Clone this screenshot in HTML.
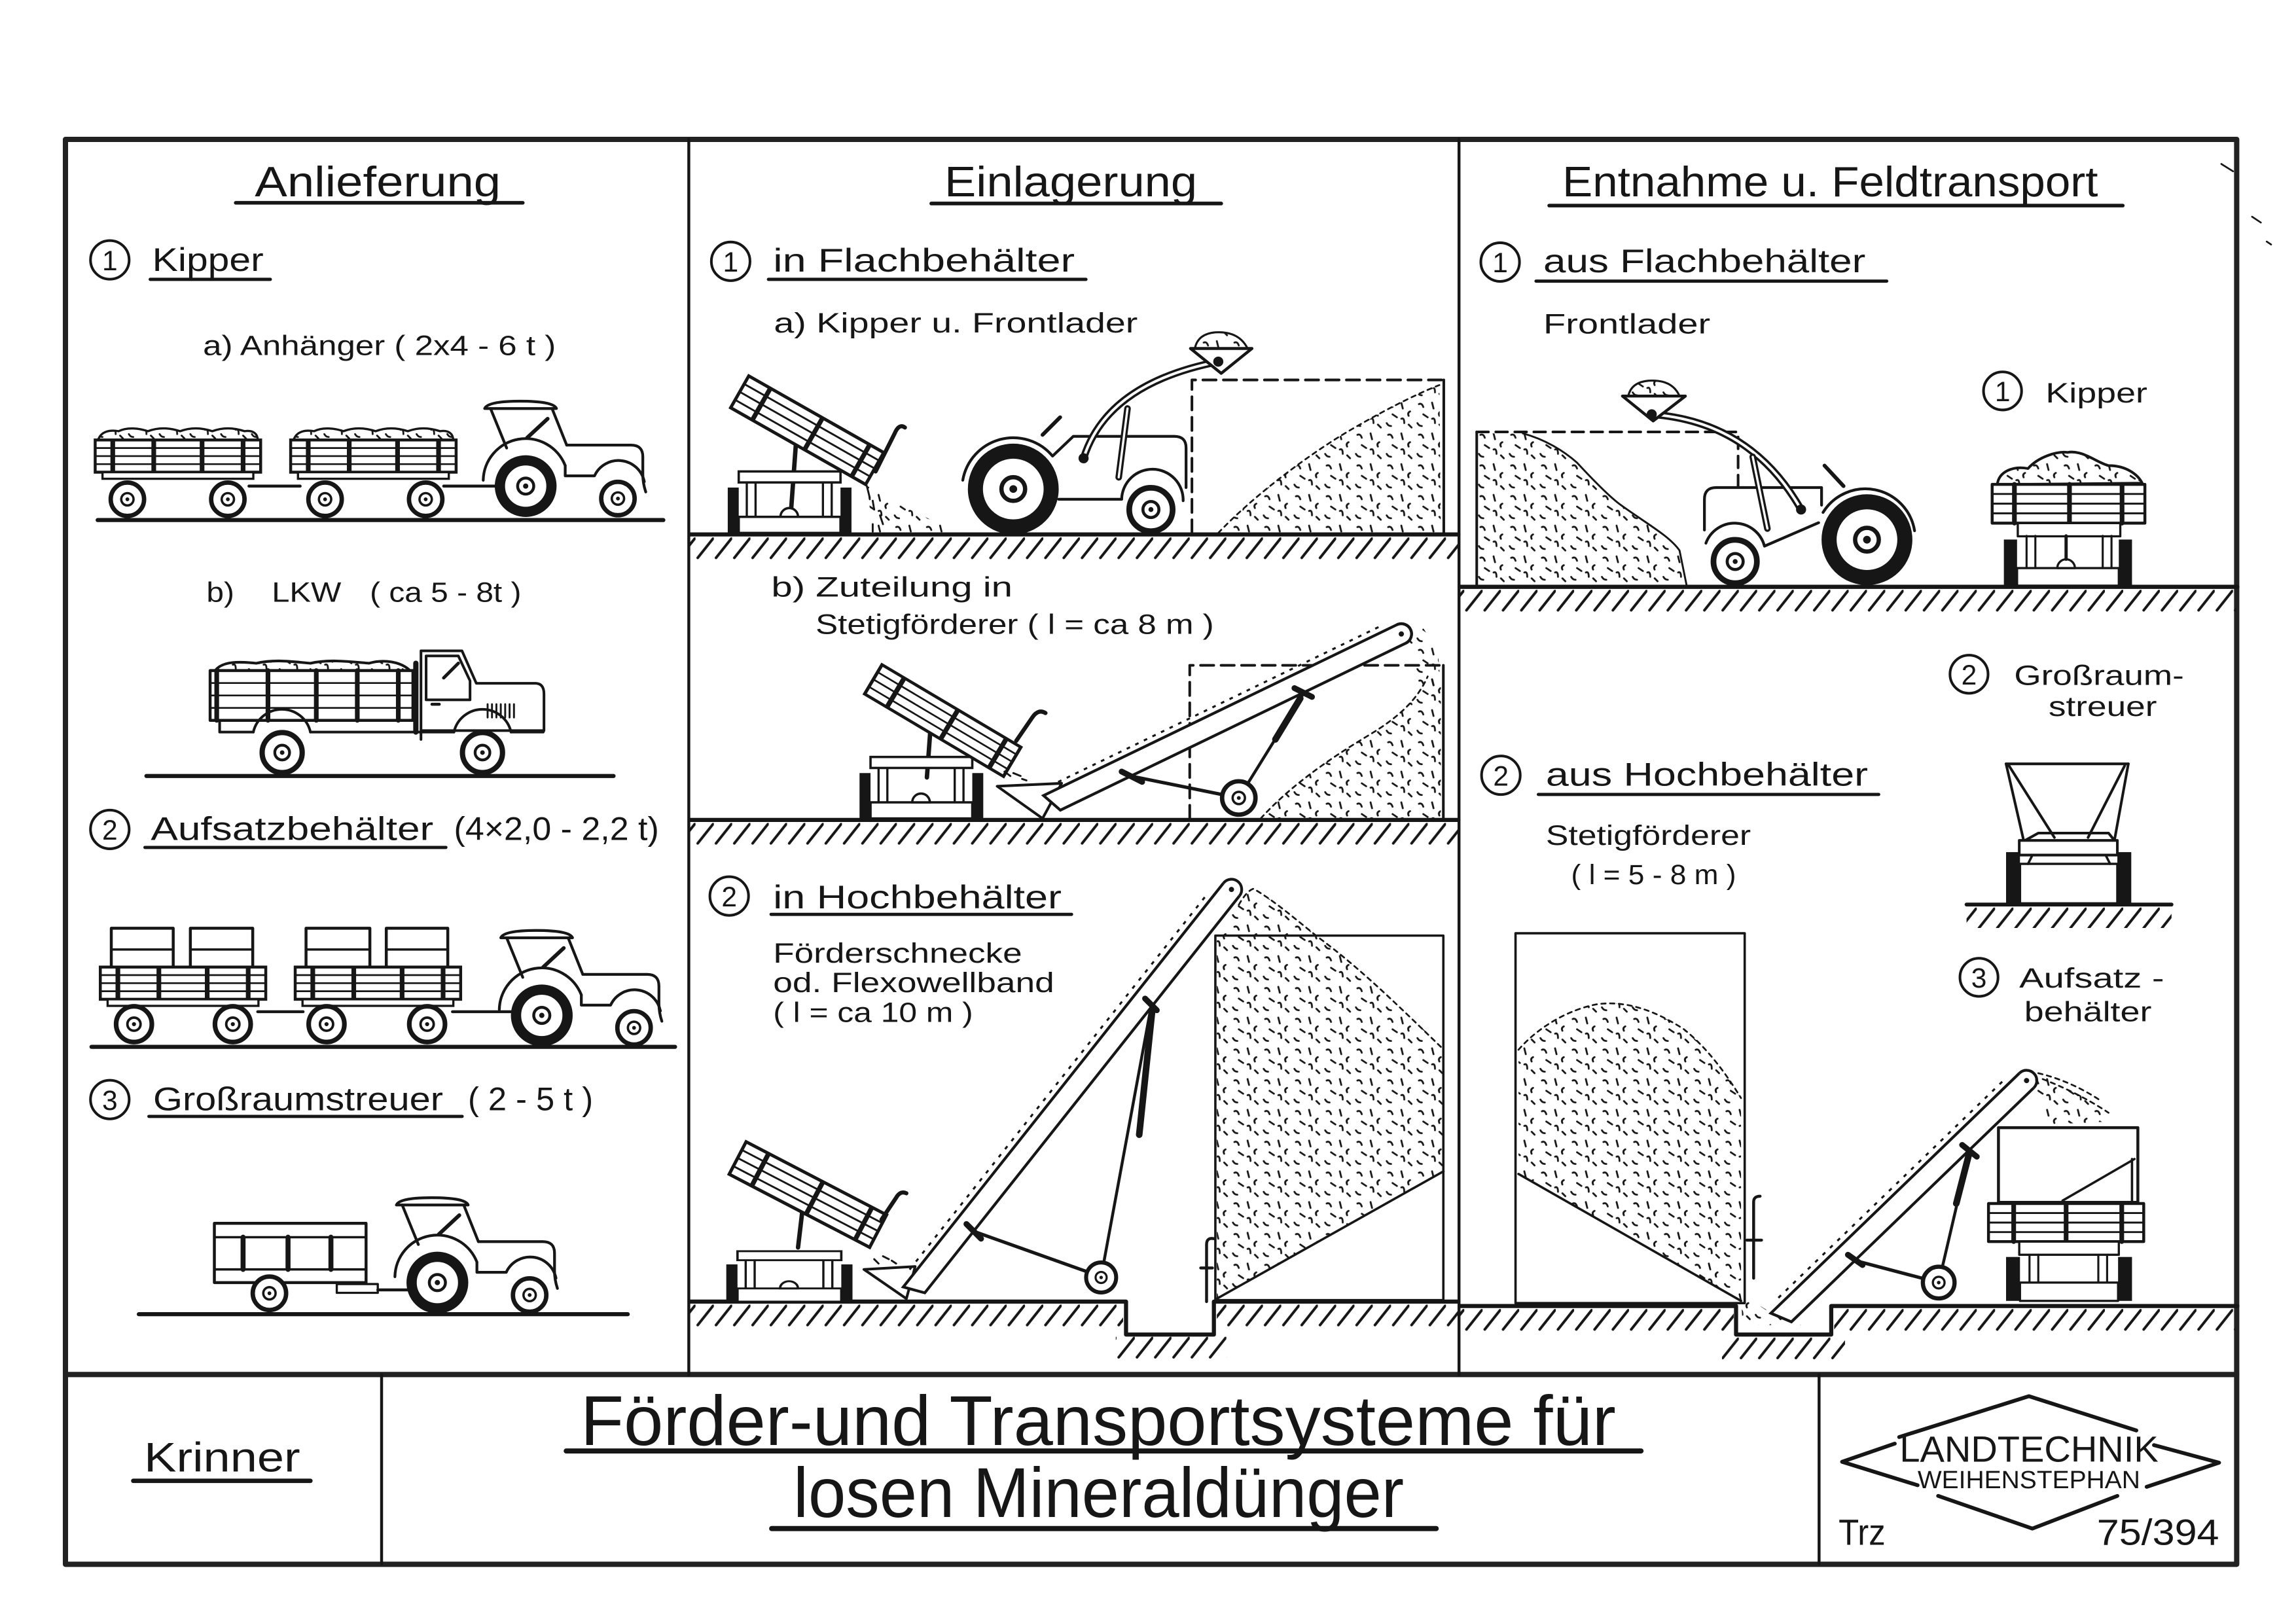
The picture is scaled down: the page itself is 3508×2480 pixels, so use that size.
<!DOCTYPE html>
<html><head><meta charset="utf-8">
<style>
html,body{margin:0;padding:0;background:#fff;}
svg{display:block;}
text{font-family:"Liberation Sans",sans-serif;fill:#161616;}
.s{stroke:#161616;fill:none;stroke-linecap:round;stroke-linejoin:round;}
</style></head><body>
<svg xmlns="http://www.w3.org/2000/svg" xmlns:xlink="http://www.w3.org/1999/xlink" width="3508" height="2480" viewBox="0 0 1568 1108.5" preserveAspectRatio="none">
<defs>
 <pattern id="hatch" width="12.5" height="16" patternUnits="userSpaceOnUse">
  <line x1="12" y1="0.8" x2="1.5" y2="14" stroke="#161616" stroke-width="1.8" stroke-linecap="round"/>
 </pattern>
 <pattern id="grain" width="21" height="21" patternUnits="userSpaceOnUse">
  <path d="M3,3 q2,-1 3,2 M12,2 l1,4 M18,8 q-2,1 -1,3 M6,10 l3,2 M12,13 q2,-1 2,3 M2,16 q1,2 3,2 M17,17 l2,2" stroke="#161616" stroke-width="1.25" fill="none" stroke-linecap="round"/>
 </pattern>
 <g id="ws">
  <circle r="11.4" fill="#fff" stroke="#161616" stroke-width="3"/>
  <circle r="4.2" fill="none" stroke="#161616" stroke-width="1.6"/>
  <circle r="1.3" fill="#161616"/>
 </g>
 <g id="wb">
  <circle r="17.6" fill="#fff" stroke="#161616" stroke-width="7"/>
  <circle r="5.5" fill="none" stroke="#161616" stroke-width="2"/>
  <circle r="1.8" fill="#161616"/>
 </g>
 <g id="tr">
  <g class="s" stroke-width="1.9">
   <path d="M-28,-53 Q-26,-58 -4,-58 Q19,-58 21,-53 Z" fill="#fff"/>
   <path d="M-24,-53 L-13,-26"/>
   <path d="M18,-53 L28,-28"/>
   <path d="M1,-33 L15,-46" stroke-width="2.6"/>
   <path d="M-29,-4 A29,29 0 0 1 27,-14"/>
   <path d="M28,-28 H72 Q80,-28 80,-20 V-8 Q80,-2 82,4"/>
   <path d="M27,-14 V-7 H47 A18,18 0 0 1 81,-3"/>
  </g>
  <use xlink:href="#wb"/>
  <use xlink:href="#ws" x="63" y="8.5"/>
 </g>
 <g id="tb">
  <rect x="0" y="-22" width="113" height="22" fill="#fff" stroke="#161616" stroke-width="2"/>
  <path d="M0,-16.5 H113 M0,-11 H113 M0,-5.5 H113" stroke="#161616" stroke-width="1.2"/>
  <path d="M12,-22 V0 M40,-22 V0 M73,-22 V0 M101,-22 V0" stroke="#161616" stroke-width="3.2"/>
  <rect x="5" y="0" width="103" height="4.5" fill="#fff" stroke="#161616" stroke-width="1.5"/>
 </g>
 <path id="ld" d="M2,-22 C4,-28 10,-29 16,-28 C22,-31 30,-30 36,-28 C44,-31 52,-30 58,-28 C66,-31 74,-30 80,-28 C88,-31 96,-30 102,-28 C108,-29 111,-26 111,-22 Z" fill="url(#grain)" stroke="#161616" stroke-width="1.5"/>
 <g id="tbase">
  <rect x="7.5" y="-42" width="69.5" height="7.5" fill="#fff" stroke="#161616" stroke-width="1.6"/>
  <rect x="0" y="-31" width="7.5" height="31" fill="#161616"/>
  <rect x="77" y="-31" width="7.5" height="31" fill="#161616"/>
  <rect x="7.5" y="-11" width="69.5" height="11" fill="#fff" stroke="#161616" stroke-width="1.6"/>
  <path d="M13,-34.5 V-11 M19,-34.5 V-11 M65,-34.5 V-11 M71,-34.5 V-11" stroke="#161616" stroke-width="1.5"/>
  <path d="M36,-11 A6,6 0 0 1 48,-11 Z" fill="#fff" stroke="#161616" stroke-width="1.6"/>
 </g>
 <g id="tbody">
  <rect x="0" y="-25" width="106" height="25" fill="#fff" stroke="#161616" stroke-width="2.2"/>
  <path d="M0,-18.7 H106 M0,-12.5 H106 M0,-6.2 H106" stroke="#161616" stroke-width="1.3"/>
  <path d="M17,-25 V0 M58,-25 V0 M95,-25 V0" stroke="#161616" stroke-width="3.2"/>
 </g>
</defs>

<rect width="1568" height="1108.5" fill="#fff"/>

<!-- ===== FRAME ===== -->
<g class="s">
 <rect x="44.7" y="95.2" width="1482.8" height="973.2" stroke-width="3.6" stroke="#222"/>
 <line x1="44.7" y1="938.8" x2="1527.5" y2="938.8" stroke-width="3.6" stroke="#222"/>
 <line x1="470.4" y1="95" x2="470.4" y2="939" stroke-width="2"/>
 <line x1="996.4" y1="95" x2="996.4" y2="939" stroke-width="2"/>
 <line x1="260.6" y1="939" x2="260.6" y2="1068" stroke-width="2"/>
 <line x1="1242.3" y1="939" x2="1242.3" y2="1068" stroke-width="2"/>
 <path d="M1517,112 l8,5 M1538,148 l6,4 M1548,165 l3,2" stroke-width="1.2"/>
</g>

<!-- ===== HEADINGS ===== -->
<text x="174" y="134" font-size="29" textLength="168" lengthAdjust="spacingAndGlyphs">Anlieferung</text>
<line class="s" x1="161" y1="138.5" x2="357" y2="138.5" stroke-width="2.5"/>
<text x="645" y="134" font-size="29" textLength="172.6" lengthAdjust="spacingAndGlyphs">Einlagerung</text>
<line class="s" x1="636" y1="139" x2="834" y2="139" stroke-width="2.5"/>
<text x="1067" y="134" font-size="29" textLength="365.8" lengthAdjust="spacingAndGlyphs">Entnahme u. Feldtransport</text>
<line class="s" x1="1058" y1="140.4" x2="1449.7" y2="140.4" stroke-width="2.5"/>

<!-- circled numbers -->
<g class="s" stroke-width="1.8">
 <circle cx="75" cy="177.5" r="13.2"/>
 <circle cx="499" cy="178.5" r="13.2"/>
 <circle cx="1024.5" cy="179" r="13.2"/>
 <circle cx="75" cy="566.5" r="13.2"/>
 <circle cx="75" cy="751" r="13.2"/>
 <circle cx="498" cy="612" r="13.2"/>
 <circle cx="1367.6" cy="267" r="13"/>
 <circle cx="1344.7" cy="460.5" r="13"/>
 <circle cx="1025" cy="529.5" r="13.2"/>
 <circle cx="1351.5" cy="667.5" r="13"/>
</g>
<g font-size="19" text-anchor="middle">
 <text x="75" y="184.5">1</text>
 <text x="499" y="185.5">1</text>
 <text x="1024.5" y="186">1</text>
 <text x="75" y="573.5">2</text>
 <text x="75" y="758">3</text>
 <text x="498" y="619">2</text>
 <text x="1367.6" y="274">1</text>
 <text x="1344.7" y="467.5">2</text>
 <text x="1025" y="536.5">2</text>
 <text x="1351.5" y="674.5">3</text>
</g>

<!-- ===== COLUMN 1 TEXT ===== -->
<g font-size="22.5">
 <text x="104" y="185" textLength="76" lengthAdjust="spacingAndGlyphs">Kipper</text>
 <text x="103" y="573.6" textLength="193" lengthAdjust="spacingAndGlyphs">Aufsatzbehälter</text>
 <text x="310" y="573.6" textLength="140" lengthAdjust="spacingAndGlyphs">(4×2,0 - 2,2 t)</text>
 <text x="104.6" y="758.4" textLength="198" lengthAdjust="spacingAndGlyphs">Großraumstreuer</text>
 <text x="319.6" y="758.4" textLength="85.4" lengthAdjust="spacingAndGlyphs">( 2 - 5 t )</text>
</g>
<g class="s" stroke-width="2.2">
 <line x1="102.6" y1="190.8" x2="184.6" y2="190.8"/>
 <line x1="99" y1="578.8" x2="304.5" y2="578.8"/>
 <line x1="101.7" y1="762.5" x2="315.6" y2="762.5"/>
</g>
<g font-size="19">
 <text x="138.6" y="242.5" textLength="241" lengthAdjust="spacingAndGlyphs">a) Anhänger ( 2x4 - 6 t )</text>
 <text x="141" y="411" textLength="19" lengthAdjust="spacingAndGlyphs">b)</text>
 <text x="185.6" y="411" textLength="47.4" lengthAdjust="spacingAndGlyphs">LKW</text>
 <text x="252.6" y="411" textLength="103.4" lengthAdjust="spacingAndGlyphs">( ca 5 - 8t )</text>
</g>

<!-- ===== COLUMN 1 ROW 1: Kipper trailers ===== -->
<line class="s" x1="66.7" y1="355.2" x2="453" y2="355.2" stroke-width="2.8"/>
<path class="s" d="M170,332 H205 M303,332 H342" stroke-width="2"/>
<use xlink:href="#ld" x="65" y="322.5"/><use xlink:href="#tb" x="65" y="322.5"/>
<use xlink:href="#ld" x="198.5" y="322.5"/><use xlink:href="#tb" x="198.5" y="322.5"/>
<use xlink:href="#ws" x="87" y="341"/><use xlink:href="#ws" x="155.6" y="341"/>
<use xlink:href="#ws" x="222" y="341"/><use xlink:href="#ws" x="290.7" y="341"/>
<use xlink:href="#tr" x="359" y="332"/>

<!-- ===== LKW ===== -->
<line class="s" x1="100" y1="530" x2="419" y2="530" stroke-width="2.8"/>
<g class="s" stroke-width="1.8">
 <path d="M147,458 C152,451 165,452 175,453 C188,450 200,452 212,453 C225,450 240,452 252,453 C262,450 274,452 280,458 Z" fill="url(#grain)"/>
 <rect x="143.5" y="458" width="138.5" height="34" fill="#fff" stroke-width="2"/>
 <path d="M143.5,466.5 H282 M143.5,475 H282 M143.5,483.5 H282" stroke-width="1.2"/>
 <path d="M148,458 V492 M183,458 V492 M216,458 V492 M244,458 V492 M272,458 V492" stroke-width="3.2"/>
 <path d="M284,453 V500" stroke-width="3.6"/>
 <path d="M287.5,505 V444.5 H315.5 L325.3,466.7 H366 Q371.5,467 371.5,474 V499 H287.5" fill="#fff"/>
 <path d="M291,448 H313 L321,465 V478 H291 Z"/>
 <path d="M303,463 L313,453" stroke-width="2.2"/>
 <path d="M295,481 H300" stroke-width="2"/>
 <path d="M333,481 V490 M336,481 V490 M339,481 V490 M342,481 V490 M345,481 V490 M348,481 V490 M351,481 V490" stroke-width="1.3"/>
 <path d="M150,492 V500 H173 M212,500 H310 M349,500 H371"/>
 <path d="M173,500 A20,20 0 0 1 212,500" fill="none"/>
 <path d="M310,500 A20,20 0 0 1 349,500" fill="none"/>
</g>
<use xlink:href="#ws" transform="translate(192.7,514) scale(1.2)"/>
<use xlink:href="#ws" transform="translate(329.5,514) scale(1.2)"/>

<!-- ===== ROW 2: Aufsatzbehälter ===== -->
<line class="s" x1="62.5" y1="715" x2="461" y2="715" stroke-width="2.8"/>
<path class="s" d="M176,691 H207 M309,691 H350" stroke-width="2"/>
<g class="s" stroke-width="2" fill="#fff">
 <rect x="76" y="634" width="42.3" height="27"/><rect x="130" y="634" width="42.6" height="27"/>
 <rect x="209" y="634" width="43.6" height="27"/><rect x="263.8" y="634" width="42" height="27"/>
 <path d="M76,648.5 H118.3 M130,648.5 H172.6 M209,648.5 H252.6 M263.8,648.5 H305.8" stroke-width="1.6"/>
</g>
<use xlink:href="#tb" x="68.5" y="682.5"/>
<use xlink:href="#tb" x="201.6" y="682.5"/>
<use xlink:href="#ws" transform="translate(91.5,699.5) scale(1.07)"/>
<use xlink:href="#ws" transform="translate(159,699.5) scale(1.07)"/>
<use xlink:href="#ws" transform="translate(223,699.5) scale(1.07)"/>
<use xlink:href="#ws" transform="translate(291.7,699.5) scale(1.07)"/>
<use xlink:href="#tr" x="370" y="693.5"/>

<!-- ===== ROW 3: Großraumstreuer ===== -->
<line class="s" x1="94.8" y1="897.6" x2="428.7" y2="897.6" stroke-width="2.8"/>
<g class="s" stroke-width="2">
 <rect x="146.4" y="835.5" width="103.6" height="40.5" fill="#fff"/>
 <path d="M146.4,845 H250 M146.4,867 H250" stroke-width="1.6"/>
 <path d="M166,845 V867 M196.7,845 V867 M226,845 V867" stroke-width="3.4"/>
 <rect x="230" y="877" width="28" height="6" fill="#fff" stroke-width="1.5"/>
 <path d="M258,881 H280"/>
</g>
<use xlink:href="#ws" x="184" y="883.3"/>
<use xlink:href="#tr" x="298.7" y="876"/>

<!-- ===== COLUMN 2 TEXT ===== -->
<g font-size="22.5">
 <text x="528" y="185.6" textLength="206" lengthAdjust="spacingAndGlyphs">in Flachbehälter</text>
 <text x="528" y="620.5" textLength="197" lengthAdjust="spacingAndGlyphs">in Hochbehälter</text>
</g>
<g class="s" stroke-width="2.2">
 <line x1="524.8" y1="190.8" x2="741.6" y2="190.8"/>
 <line x1="526.6" y1="624.5" x2="731.8" y2="624.5"/>
</g>
<g font-size="19">
 <text x="528.5" y="227" textLength="248.5" lengthAdjust="spacingAndGlyphs">a) Kipper u. Frontlader</text>
 <text x="526.7" y="407.5" textLength="164.8" lengthAdjust="spacingAndGlyphs">b) Zuteilung in</text>
 <text x="557" y="433" textLength="272" lengthAdjust="spacingAndGlyphs">Stetigförderer  ( l = ca 8 m )</text>
 <text x="528" y="657.5" textLength="170" lengthAdjust="spacingAndGlyphs">Förderschnecke</text>
 <text x="528" y="677.7" textLength="192" lengthAdjust="spacingAndGlyphs">od. Flexowellband</text>
 <text x="528" y="698" textLength="136.5" lengthAdjust="spacingAndGlyphs">( l = ca 10 m )</text>
</g>

<!-- grounds col 2 -->
<g class="s" stroke-width="2.8">
 <line x1="471" y1="365" x2="996" y2="365"/>
 <line x1="471" y1="560" x2="996" y2="560"/>
 <path d="M471,889 H769 V911.5 H829 V889 H996"/>
</g>
<g transform="translate(0,367)"><rect x="471" y="0" width="525" height="15" fill="url(#hatch)"/></g>
<g transform="translate(0,562)"><rect x="471" y="0" width="525" height="15" fill="url(#hatch)"/></g>
<g transform="translate(0,891)"><rect x="471" y="0" width="296" height="15" fill="url(#hatch)"/><rect x="831" y="0" width="165" height="15" fill="url(#hatch)"/></g>
<g transform="translate(0,913)"><rect x="762" y="0" width="76" height="15" fill="url(#hatch)"/></g>

<!-- 1a tipper -->
<path class="s" d="M540,352 L545,283" stroke-width="3"/>
<use xlink:href="#tbase" x="497" y="364"/>
<g transform="translate(499,278.5) rotate(29.6)"><use xlink:href="#tbody"/></g>
<path class="s" d="M598,322 L611,296 Q614,289 618,292" stroke-width="2.8"/>
<path d="M592,330 L600,336 L615,345 L640,357 L657,364 L596,364 Z" fill="url(#grain)"/>
<path class="s" d="M592,332 l2,8 M596,342 l1,6 M601,352 l2,6 M596,358 l0,5" stroke-width="1.3"/>

<!-- 1a tractor with loader -->
<g class="s" stroke-width="1.9">
 <path d="M657.5,328 A35,35 0 0 1 718.8,311.5 L733,298 H802 Q810,298 810,306 V333"/>
 <path d="M723,341 H766"/>
 <path d="M766,341 A21,21 0 0 1 808,342"/>
 <path d="M712,297 L724,285" stroke-width="2.6"/>
 <path d="M740,313 Q756,262 832,247" stroke-width="5"/>
 <path d="M740,313 Q756,262 832,247" stroke="#fff" stroke-width="1.8"/>
 <path d="M764,326 L770,279" stroke-width="4.5"/>
 <path d="M764,326 L770,279" stroke="#fff" stroke-width="1.5"/>
 <path d="M813,238 H855 L834,255 Z" fill="#fff" stroke-width="2"/>
 <path d="M816,238 Q818,228 830,227 Q846,226 852,238 Z" fill="url(#grain)" stroke-width="1.4"/>
 <circle cx="740" cy="313" r="2.5" fill="#161616"/>
 <circle cx="832" cy="247" r="2.5" fill="#161616"/>
</g>
<use xlink:href="#wb" transform="translate(692,334) scale(1.47)"/>
<use xlink:href="#ws" transform="translate(786,348) scale(1.3)"/>

<!-- 1a container -->
<path class="s" d="M814,364 V259.5 H986" stroke-width="1.8" stroke-dasharray="9 5"/>
<path class="s" d="M986,259.5 V364" stroke-width="1.8"/>
<path d="M832,364 C850,345 880,320 915,298 C940,283 965,270 983,263 L984,364 Z" fill="url(#grain)"/>
<path class="s" d="M832,364 C850,345 880,320 915,298 C940,283 965,270 983,263" stroke-width="1.2" stroke-dasharray="3 3"/>

<!-- 1b tipper -->
<path class="s" d="M633,531 L636,490" stroke-width="3"/>
<use xlink:href="#tbase" x="587" y="559"/>
<g transform="translate(590.5,474) rotate(30.7)"><use xlink:href="#tbody" transform="scale(1.04,0.93)"/></g>
<path class="s" d="M694,506 L705,490 Q709,484 714,487" stroke-width="2.8"/>
<path class="s" d="M686,527 l4,3 M692,528 l5,2 M698,532 l3,1" stroke-width="1.3"/>

<!-- 1b dashed container and pile -->
<path class="s" d="M812.5,559 V454.4 H985.7" stroke-width="1.8" stroke-dasharray="9 5"/>
<path class="s" d="M985.7,454.4 V559" stroke-width="1.8"/>
<path d="M861,559 C880,538 905,520 935,502 C955,490 968,478 975,462 L984,460 L984,559 Z" fill="url(#grain)"/>
<path d="M962,428 L972,429 L982,445 L984,470 L970,470 L963,442 Z" fill="url(#grain)"/>
<path class="s" d="M861,559 C880,538 905,520 935,502 C955,490 968,478 975,462" stroke-width="1.2" stroke-dasharray="3 3"/>

<!-- 1b hopper & conveyor -->
<path class="s" d="M681,537 L725,535 L712,559 Z" fill="#fff" stroke-width="1.8"/>
<g transform="translate(957,433) rotate(-25.8)">
 <path d="M0,-7 H-268 L-262,7 H0 A7,7 0 0 0 0,-7" fill="#fff" stroke="#161616" stroke-width="1.9"/>
 <path d="M0,-7 A7,7 0 0 1 0,7" fill="none" stroke="#161616" stroke-width="1.9"/>
 <circle r="1.8" fill="#161616"/>
 <path d="M-255,-11 H-12" stroke="#161616" stroke-width="1.4" stroke-dasharray="2.5 4" fill="none"/>
</g>
<g class="s">
 <path d="M846,545 L890,474" stroke-width="2"/>
 <path d="M871,505 L888,477" stroke-width="4.5"/>
 <path d="M846,545 L772,530" stroke-width="2.3"/>
 <path d="M766,527 L780,534" stroke-width="4"/>
 <path d="M884,470 L896,476" stroke-width="4"/>
</g>
<use xlink:href="#ws" x="846" y="545"/>

<!-- 2 Hochbehälter -->
<path class="s" d="M545,852 L549,818" stroke-width="3"/>
<use xlink:href="#tbase" transform="translate(496,889) scale(1.02,0.82)"/>
<g transform="translate(498,802) rotate(27.5)"><use xlink:href="#tbody" transform="scale(1.02,1)"/></g>
<path class="s" d="M602,833 L612,818 Q615,813 619,815" stroke-width="2.8"/>
<path class="s" d="M590,867 L625,865 L619,887 Z" fill="#fff" stroke-width="1.8"/>
<path class="s" d="M597,860 l3,3 M603,858 l4,2 M609,861 l3,2" stroke-width="1.3"/>
<g transform="translate(841,607.5) rotate(-51.6)">
 <path d="M0,-7 H-352 L-346,7 H0" fill="#fff" stroke="#161616" stroke-width="1.9"/>
 <path d="M0,-7 A7,7 0 0 1 0,7" fill="#fff" stroke="#161616" stroke-width="1.9"/>
 <circle r="1.8" fill="#161616"/>
 <path d="M-340,-11 H-12" stroke="#161616" stroke-width="1.4" stroke-dasharray="2.5 4.5" fill="none"/>
</g>
<g class="s">
 <path d="M752,872 L786,688" stroke-width="2"/>
 <path d="M778,775 L787,689" stroke-width="4.5"/>
 <path d="M752,872 L665,841" stroke-width="2.3"/>
 <path d="M660,836 L670,846" stroke-width="4"/>
 <path d="M782,682 L790,690" stroke-width="4"/>
</g>
<use xlink:href="#ws" transform="translate(752,872.5) scale(0.9)"/>
<rect class="s" x="830" y="639" width="155.7" height="249" stroke-width="1.6"/>
<path d="M831,887 L831,640 C838,630 846,615 856,607 C870,615 885,628 900,640 C930,662 958,690 985,715 L985,800 Z" fill="url(#grain)"/>
<path class="s" d="M831,887 L985.8,800" stroke-width="1.6"/>
<path class="s" d="M846,618 C850,611 853,608 856,607 C870,615 885,628 900,640 C930,662 958,690 984,715" stroke-width="1.2" stroke-dasharray="3 3"/>
<path class="s" d="M824,889 V850 Q824,845 829,846 M820,866 H828" stroke-width="2"/>

<!-- ===== COLUMN 3 TEXT ===== -->
<g font-size="22.5">
 <text x="1054" y="186" textLength="220" lengthAdjust="spacingAndGlyphs">aus Flachbehälter</text>
 <text x="1055.7" y="536.5" textLength="220" lengthAdjust="spacingAndGlyphs">aus Hochbehälter</text>
</g>
<g class="s" stroke-width="2.2">
 <line x1="1049" y1="192" x2="1288.5" y2="192"/>
 <line x1="1050.6" y1="542.6" x2="1283" y2="542.6"/>
</g>
<g font-size="19">
 <text x="1054" y="227.8" textLength="114" lengthAdjust="spacingAndGlyphs">Frontlader</text>
 <text x="1397" y="275" textLength="69.5" lengthAdjust="spacingAndGlyphs">Kipper</text>
 <text x="1375.5" y="467.7" textLength="116" lengthAdjust="spacingAndGlyphs">Großraum-</text>
 <text x="1399" y="488.9" textLength="74" lengthAdjust="spacingAndGlyphs">streuer</text>
 <text x="1055.7" y="577" textLength="140" lengthAdjust="spacingAndGlyphs">Stetigförderer</text>
 <text x="1073" y="603.8" textLength="112.6" lengthAdjust="spacingAndGlyphs">( l = 5 - 8 m )</text>
 <text x="1379" y="674.6" textLength="99" lengthAdjust="spacingAndGlyphs">Aufsatz -</text>
 <text x="1382.4" y="697.4" textLength="87" lengthAdjust="spacingAndGlyphs">behälter</text>
</g>

<!-- col3 grounds -->
<g class="s" stroke-width="2.8">
 <line x1="997" y1="400.8" x2="1528" y2="400.8"/>
 <path d="M997,892 H1185.6 V911.5 H1250.6 V892 H1528"/>
 <line x1="1343" y1="617.8" x2="1483" y2="617.8" stroke-width="2.6"/>
</g>
<g transform="translate(0,402.8)"><rect x="997" y="0" width="530" height="15" fill="url(#hatch)"/></g>
<g transform="translate(0,894)"><rect x="997" y="0" width="187" height="15" fill="url(#hatch)"/><rect x="1252.6" y="0" width="274" height="15" fill="url(#hatch)"/></g>
<g transform="translate(0,913.5)"><rect x="1176" y="0" width="84" height="15" fill="url(#hatch)"/></g>
<g transform="translate(0,619.8)"><rect x="1343" y="0" width="140" height="14" fill="url(#hatch)"/></g>

<!-- col3 flat container & pile -->
<path class="s" d="M1008.5,295 V400.8" stroke-width="1.8"/>
<path class="s" d="M1008.5,295 H1187 V333" stroke-width="1.8" stroke-dasharray="8 5"/>
<path d="M1009,400.6 L1009,296 L1040,296 C1055,300 1068,308 1077,316 C1090,330 1100,340 1107,345 C1125,358 1140,366 1147,376 L1152,400.6 Z" fill="url(#grain)"/>
<path class="s" d="M1040,296 C1055,300 1068,308 1077,316 C1090,330 1100,340 1107,345 C1125,358 1140,366 1147,376 L1152,400.6" stroke-width="1.3"/>

<!-- col3 tractor (facing left) -->
<g class="s" stroke-width="1.9">
 <path d="M1307.5,362.5 A34,34 0 0 0 1245,350"/>
 <path d="M1244,345 V333 H1172 Q1164,333 1164,341 V362"/>
 <path d="M1165,371 A21,21 0 0 1 1205,373 L1242,357"/>
 <path d="M1246,318 L1259,332" stroke-width="2.6"/>
 <path d="M1230,348 Q1196,288 1128,283" stroke-width="5"/>
 <path d="M1230,348 Q1196,288 1128,283" stroke="#fff" stroke-width="1.8"/>
 <path d="M1197,312 L1207,361" stroke-width="4.5"/>
 <path d="M1197,312 L1207,361" stroke="#fff" stroke-width="1.5"/>
 <path d="M1108,270.5 H1151 L1129,287.5 Z" fill="#fff" stroke-width="2"/>
 <path d="M1112,270.5 Q1114,261 1126,260 Q1142,259 1147,270.5 Z" fill="url(#grain)" stroke-width="1.4"/>
 <circle cx="1230" cy="348" r="2.5" fill="#161616"/>
 <circle cx="1128" cy="283" r="2.5" fill="#161616"/>
</g>
<use xlink:href="#wb" transform="translate(1275,368.6) scale(1.47)"/>
<use xlink:href="#ws" transform="translate(1185,383.5) scale(1.3)"/>

<!-- col3 Kipper trailer -->
<g class="s" stroke-width="1.8">
 <path d="M1364,331 C1365,322 1375,318 1385,320 C1392,312 1405,308 1412,309 C1422,307 1432,316 1440,318 C1452,318 1460,324 1463,330 Z" fill="url(#grain)"/>
 <rect x="1360.5" y="330.8" width="104.3" height="26.5" fill="#fff" stroke-width="2"/>
 <path d="M1360.5,337.4 H1464.8 M1360.5,344 H1464.8 M1360.5,350.6 H1464.8" stroke-width="1.3"/>
 <path d="M1375.7,330.8 V357.3 M1413.3,330.8 V357.3 M1449.2,330.8 V357.3" stroke-width="3.2"/>
 <rect x="1378" y="357.3" width="70" height="9" fill="#fff" stroke-width="1.5"/>
 <rect x="1368.5" y="368.5" width="9" height="32" fill="#161616" stroke="none"/>
 <rect x="1447" y="368.5" width="9" height="32" fill="#161616" stroke="none"/>
 <rect x="1377.5" y="388" width="69.5" height="12" fill="#fff" stroke-width="1.5"/>
 <path d="M1384,366 V388 M1390,366 V388 M1436,366 V388 M1442,366 V388" stroke-width="1.4"/>
 <path d="M1405,388 A6,6 0 0 1 1417,388 Z" fill="#fff" stroke-width="1.5"/>
 <path d="M1411,366 V382" stroke-width="2.2"/>
</g>

<!-- col3 Großraumstreuer -->
<g class="s" stroke-width="1.8">
 <path d="M1370,521.7 H1453.5"/>
 <path d="M1370,521.7 L1382,574 M1453.5,521.7 L1444,574"/>
 <path d="M1372,523 L1403,572 M1451,523 L1426,572"/>
 <path d="M1383,574 L1392,569 H1440 L1444,574"/>
 <rect x="1379" y="574" width="67" height="10" fill="#fff"/>
 <rect x="1370" y="582" width="9.5" height="35" fill="#161616" stroke="none"/>
 <rect x="1446" y="582" width="9.5" height="35" fill="#161616" stroke="none"/>
 <rect x="1379.5" y="590" width="66.5" height="27" fill="#fff" stroke-width="1.6"/>
 <path d="M1388,584 L1385,590 M1438,584 L1441,590" stroke-width="1.6"/>
</g>

<!-- col3 tall container -->
<rect class="s" x="1035" y="637.4" width="156.5" height="252.6" stroke-width="1.6"/>
<path d="M1037,801.8 L1037,717 C1050,702 1070,690 1090,686 C1110,683 1130,690 1150,703 C1165,715 1178,732 1189,750 L1189,888.5 Z" fill="url(#grain)"/>
<path d="M1189,884 L1212,898 L1230,905 L1190,905 Z" fill="url(#grain)"/>
<path class="s" d="M1037,801.8 L1189,888.5" stroke-width="1.6"/>
<path class="s" d="M1037,717 C1050,702 1070,690 1090,686 C1110,683 1130,690 1150,703 C1165,715 1178,732 1189,750" stroke-width="1.2" stroke-dasharray="3 3"/>
<path class="s" d="M1197.6,873 V821 Q1197.6,817 1202,817 M1193,847 H1203" stroke-width="2"/>

<!-- col3 conveyor -->
<g transform="translate(1384,738) rotate(-44)">
 <path d="M0,-7 H-236 L-230,7 H0" fill="#fff" stroke="#161616" stroke-width="1.9"/>
 <path d="M0,-7 A7,7 0 0 1 0,7" fill="#fff" stroke="#161616" stroke-width="1.9"/>
 <circle r="1.8" fill="#161616"/>
 <path d="M-225,-11 H-12" stroke="#161616" stroke-width="1.4" stroke-dasharray="2.5 4.5" fill="none"/>
</g>
<path d="M1389,733 C1400,736 1415,745 1428,752 L1440,766 L1400,768 L1392,748 Z" fill="url(#grain)"/>
<path class="s" d="M1392,733 C1405,736 1420,742 1435,752 M1395,737 C1408,742 1425,750 1440,760" stroke-width="1.2" stroke-dasharray="3 3"/>
<g class="s">
 <path d="M1324,876 L1345,786" stroke-width="2"/>
 <path d="M1336,822 L1345,787" stroke-width="4.5"/>
 <path d="M1324,876 L1267,861" stroke-width="2.3"/>
 <path d="M1262,857 L1272,864" stroke-width="4"/>
 <path d="M1340,782 L1350,790" stroke-width="4"/>
</g>
<use xlink:href="#ws" transform="translate(1324,876) scale(0.95)"/>

<!-- col3 Aufsatzbehälter trailer -->
<g class="s" stroke-width="1.8">
 <rect x="1364.8" y="770.2" width="95.2" height="51" fill="#fff" stroke-width="2"/>
 <path d="M1408.6,820 L1457.7,791.6 M1456,791.6 V821" stroke-width="1.6"/>
 <rect x="1358" y="822" width="106" height="26" fill="#fff" stroke-width="2"/>
 <path d="M1358,828.5 H1464 M1358,835 H1464 M1358,841.5 H1464" stroke-width="1.3"/>
 <path d="M1375.2,822 V848 M1411,822 V848 M1449,822 V848" stroke-width="3.2"/>
 <rect x="1379" y="848" width="68" height="9" fill="#fff" stroke-width="1.5"/>
 <rect x="1370" y="858.5" width="9.5" height="30" fill="#161616" stroke="none"/>
 <rect x="1446.5" y="858.5" width="9.5" height="30" fill="#161616" stroke="none"/>
 <rect x="1379.5" y="876" width="67" height="12.5" fill="#fff" stroke-width="1.5"/>
 <path d="M1386,857 V876 M1392,857 V876 M1433,857 V876 M1439,857 V876" stroke-width="1.4"/>
</g>

<!-- ===== TITLE BLOCK ===== -->
<text x="98.4" y="1005" font-size="28" textLength="106.6" lengthAdjust="spacingAndGlyphs">Krinner</text>
<line class="s" x1="91" y1="1011.4" x2="212" y2="1011.4" stroke-width="3"/>
<text x="396.5" y="987" font-size="48" textLength="707" lengthAdjust="spacingAndGlyphs">Förder-und Transportsysteme für</text>
<line class="s" x1="386.7" y1="991" x2="1120.7" y2="991" stroke-width="3.5"/>
<text x="541.8" y="1036" font-size="48" textLength="417" lengthAdjust="spacingAndGlyphs">losen Mineraldünger</text>
<line class="s" x1="527" y1="1044" x2="980.8" y2="1044" stroke-width="3.5"/>

<g class="s" stroke-width="2.6" stroke="#2a2a2a">
 <path d="M1297,981.5 L1385.6,953.6 L1459,977"/>
 <path d="M1294,986 L1258,998.4 L1309.6,1014.4"/>
 <path d="M1471,987 L1515.5,999 L1466,1015.5"/>
 <path d="M1323.6,1021.7 L1388,1044 L1446,1021.7"/>
</g>
<text x="1297.3" y="998.4" font-size="25" textLength="176.7" lengthAdjust="spacingAndGlyphs">LANDTECHNIK</text>
<text x="1309.6" y="1016.4" font-size="17" textLength="152" lengthAdjust="spacingAndGlyphs">WEIHENSTEPHAN</text>
<text x="1255.6" y="1055" font-size="25" textLength="32" lengthAdjust="spacingAndGlyphs">Trz</text>
<text x="1432" y="1055" font-size="25" textLength="83.5" lengthAdjust="spacingAndGlyphs">75/394</text>
</svg>
</body></html>
